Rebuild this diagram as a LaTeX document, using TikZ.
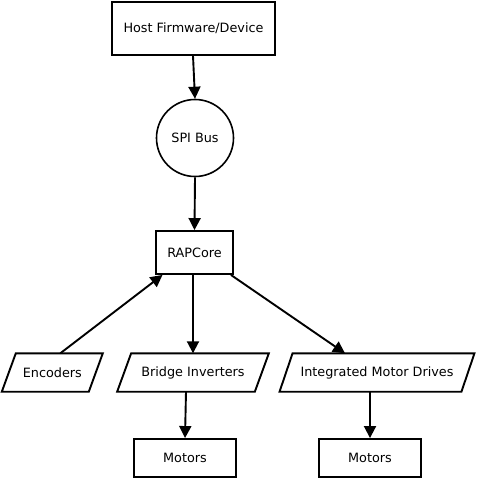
\documentclass[tikz,border=0pt]{standalone}
\usepackage{fontspec}
\setmainfont{DejaVu Sans}
\usetikzlibrary{arrows.meta}
\begin{document}
\begin{tikzpicture}[x=1pt,y=-1pt,
  every node/.style={font=\fontsize{12.8}{14}\selectfont, inner sep=0pt},
  boxnode/.style={draw, line width=1.9pt, minimum width=#1, minimum height=38pt},
  plain/.style={minimum width=#1, minimum height=38pt},
  conn/.style={line width=1.9pt, -{Triangle[length=12pt,width=12pt]}},
  pgram/.style={line width=1.9pt}]
\useasboundingbox (0,0) rectangle (476,478);
\node[draw, line width=1.9pt, minimum width=163pt, minimum height=53pt] (host) at (193.5,28.5) {Host Firmware/Device};
\node[draw, circle, line width=1.6pt, minimum size=77pt] (spi) at (195,138) {SPI Bus};
\node[draw, line width=1.9pt, minimum width=77pt, minimum height=43pt] (rap) at (194.5,252.5) {RAPCore};
\node[plain=86.6pt] (enc) at (52.3,372.5) {Encoders};
\node[plain=137.3pt] (bri) at (193,372.5) {Bridge Inverters};
\node[plain=181.5pt] (imd) at (377,372.5) {Integrated Motor Drives};
\node[boxnode=102pt] (m1) at (185,458) {Motors};
\node[boxnode=102pt] (m2) at (370,458) {Motors};
\foreach \n/\s in {enc/7, bri/7, imd/6.5}{
  \draw[pgram] ([xshift=\s pt]\n.north west) -- ([xshift=\s pt]\n.north east)
     -- ([xshift=-\s pt]\n.south east) -- ([xshift=-\s pt]\n.south west) -- cycle;
}
\draw[conn] (host.south -| 193,0) -- (spi.north);
\draw[conn] (spi.south) -- (rap.north);
\draw[conn] (rap.south -| 193,0) -- (bri.north -| 193,0);
\draw[conn] (rap.south east) ++(-3,0) coordinate (rs) -- ([xshift=-32pt]imd.north);
\draw[conn] ([xshift=8pt]enc.north) -- ([xshift=-32pt]rap.south);
\draw[conn] (bri.south -| 186,0) -- (m1.north);
\draw[conn] (imd.south -| 370,0) -- (m2.north);
\end{tikzpicture}
\end{document}
